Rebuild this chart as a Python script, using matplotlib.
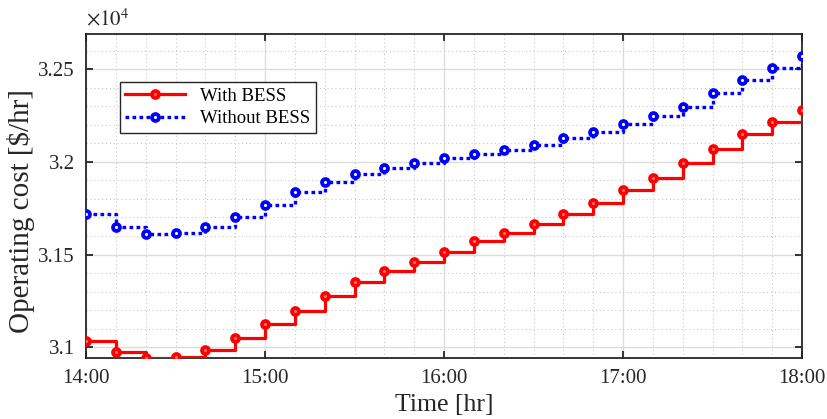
import numpy as np
import matplotlib
matplotlib.use('Agg')
import matplotlib.pyplot as plt
from matplotlib.ticker import MultipleLocator, FuncFormatter

plt.rcParams['font.family'] = ['Liberation Serif', 'DejaVu Serif']
plt.rcParams['mathtext.fontset'] = 'stix'

# time in hours, one point every 10 minutes from 14:00 to 18:00
time_hr = [14 + m / 60 for m in range(0, 241, 10)]

# operating cost [$/hr]
cost_with_bess = [31036, 30973, 30942, 30946, 30986, 31049, 31123, 31197, 31276,
                  31352, 31410, 31459, 31511, 31573, 31616, 31665, 31719, 31780,
                  31847, 31915, 31993, 32071, 32150, 32217, 32280]
cost_without_bess = [31717, 31647, 31612, 31614, 31650, 31703, 31768, 31836, 31891,
                     31932, 31966, 31993, 32018, 32042, 32062, 32091, 32129, 32163,
                     32203, 32248, 32293, 32369, 32440, 32505, 32570]

hour_ticks = [14, 15, 16, 17, 18]
hour_labels = ['14:00', '15:00', '16:00', '17:00', '18:00']

fig = plt.figure(figsize=(8.28, 4.19), dpi=100)
ax = fig.add_axes([0.1039, 0.1456, 0.8647, 0.7744])

ax.plot(time_hr, cost_with_bess, drawstyle='steps-post', color='red', lw=2.3,
        marker='o', ms=5, mew=2.7, mfc='#ff7070', mec='red', label='With BESS', zorder=3)
ax.plot(time_hr, cost_without_bess, drawstyle='steps-post', color='blue', lw=2.4,
        linestyle=(0, (1.1, 1.0)), marker='o', ms=5, mew=2.7, mfc='white', mec='blue',
        label='Without BESS', zorder=3)

ax.set_xlim(14, 18)
ax.set_ylim(30942, 32692)
ax.set_xticks(hour_ticks)
ax.set_xticklabels(hour_labels)
ax.xaxis.set_minor_locator(MultipleLocator(1 / 6))
ax.yaxis.set_major_locator(MultipleLocator(500))
ax.yaxis.set_minor_locator(MultipleLocator(100))
ax.yaxis.set_major_formatter(FuncFormatter(lambda v, p: '%g' % round(v / 1e4, 3)))

ax.grid(which='major', color='#dcdcdc', lw=1.0, ls='-')
ax.grid(which='minor', color='#c8c8c8', lw=0.8, ls=(0, (1, 2.5)))
ax.set_axisbelow(True)

ax.tick_params(which='major', direction='in', length=5, width=1.3, top=True, right=True,
               labelsize=15, colors='#262626', pad=8)
ax.tick_params(which='minor', length=0, top=True, right=True)
for s in ax.spines.values():
    s.set_linewidth(1.3)
    s.set_color('#262626')

ax.set_xlabel('Time [hr]', fontsize=18.5, color='#262626', labelpad=4)
ax.set_ylabel('Operating cost [$/hr]', fontsize=21, color='#262626')
ax.yaxis.set_label_coords(-0.071, 0.453)
ax.text(0.0, 1.01, r'$\times10^4$', transform=ax.transAxes, fontsize=15,
        color='#262626', ha='left', va='bottom')

leg = ax.legend(loc='upper left', bbox_to_anchor=(0.047, 0.851), fontsize=13.5,
                fancybox=False, framealpha=1, edgecolor='#262626', borderaxespad=0,
                handlelength=3.2, borderpad=0.3, labelspacing=0.3)
leg.get_frame().set_linewidth(1.0)

fig.savefig('out.png', dpi=100)
